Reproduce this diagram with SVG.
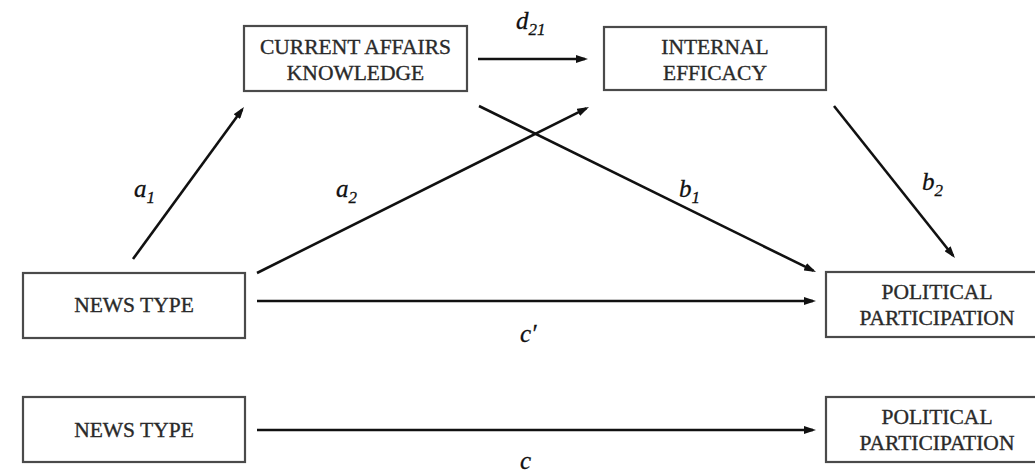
<svg xmlns="http://www.w3.org/2000/svg" width="1035" height="474" viewBox="0 0 1035 474">
<style>
.box{fill:#fff;stroke:#4a4a4a;stroke-width:2.2}
.bt{font-family:"Liberation Serif","Times New Roman",serif;font-size:21.5px;fill:#2a2a2a;stroke:#2a2a2a;stroke-width:0.35;text-anchor:middle}
.ed{stroke:#111;stroke-width:2.6;fill:none;marker-end:url(#ah)}
.lb{font-family:"Liberation Serif","Times New Roman",serif;font-style:italic;font-size:25px;fill:#111;stroke:#111;stroke-width:0.3}
.sb{font-size:17px}
</style>
<defs>
<marker id="ah" viewBox="0 0 12 8" refX="9" refY="4" markerWidth="12" markerHeight="8" markerUnits="userSpaceOnUse" orient="auto">
<path d="M0,0 L12,4 L0,8 z" fill="#111"/>
</marker>
</defs>
<rect width="1035" height="474" fill="#fff"/>
<g id="connectors">
<line class="ed" x1="478" y1="59" x2="585" y2="59"/>
<line class="ed" x1="133" y1="259" x2="242.2" y2="109.4"/>
<line class="ed" x1="257" y1="273" x2="586.3" y2="108.3"/>
<line class="ed" x1="479" y1="106" x2="813.3" y2="270.7"/>
<line class="ed" x1="834" y1="106" x2="953.1" y2="255.7"/>
<line class="ed" x1="257" y1="301" x2="813" y2="301"/>
<line class="ed" x1="257" y1="430" x2="813" y2="430"/>
<text class="lb" x="516" y="29">d<tspan class="sb" dy="6">21</tspan></text>
<text class="lb" x="134" y="197">a<tspan class="sb" dy="6">1</tspan></text>
<text class="lb" x="336" y="197">a<tspan class="sb" dy="6">2</tspan></text>
<text class="lb" x="679" y="197">b<tspan class="sb" dy="6">1</tspan></text>
<text class="lb" x="922" y="190">b<tspan class="sb" dy="6">2</tspan></text>
<text class="lb" x="520" y="342">c′</text>
<text class="lb" x="520" y="469">c</text>
</g>
<g id="current-affairs-knowledge">
<rect class="box" x="244" y="26" width="223" height="65"/>
<text class="bt" x="355.5" y="54">CURRENT AFFAIRS</text>
<text class="bt" x="355.5" y="80">KNOWLEDGE</text>
</g>
<g id="internal-efficacy">
<rect class="box" x="604" y="27" width="222" height="63"/>
<text class="bt" x="715" y="54">INTERNAL</text>
<text class="bt" x="715" y="80">EFFICACY</text>
</g>
<g id="news-type-1">
<rect class="box" x="23" y="273" width="222" height="65"/>
<text class="bt" x="134" y="312">NEWS TYPE</text>
</g>
<g id="political-participation-1">
<rect class="box" x="826" y="272" width="222" height="65"/>
<text class="bt" x="937" y="299">POLITICAL</text>
<text class="bt" x="937" y="325">PARTICIPATION</text>
</g>
<g id="news-type-2">
<rect class="box" x="23" y="397" width="222" height="65"/>
<text class="bt" x="134" y="437">NEWS TYPE</text>
</g>
<g id="political-participation-2">
<rect class="box" x="826" y="397" width="222" height="65"/>
<text class="bt" x="937" y="424">POLITICAL</text>
<text class="bt" x="937" y="450">PARTICIPATION</text>
</g>
</svg>
